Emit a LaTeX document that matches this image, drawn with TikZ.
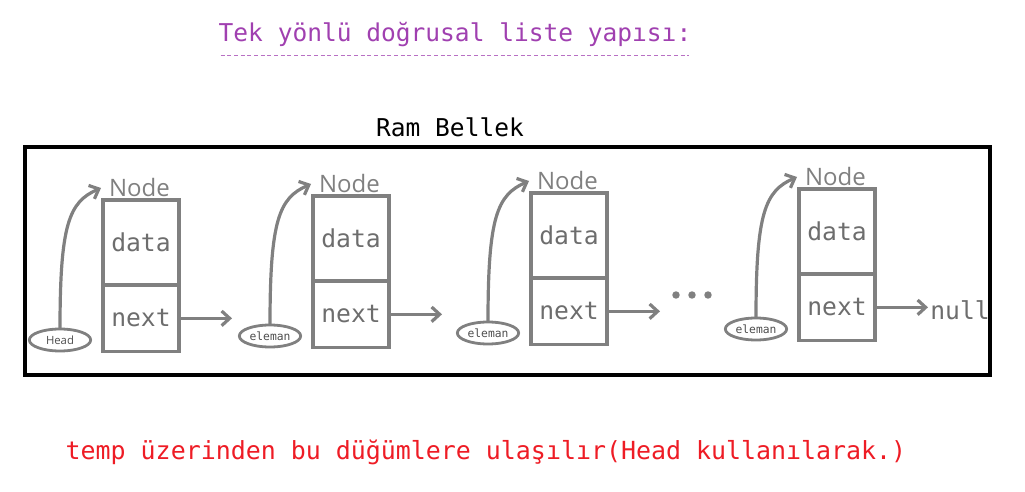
\documentclass[tikz,border=0pt]{standalone}
\usepackage{fontspec}
\setmainfont{Open Sans}
\setmonofont{DejaVu Sans Mono}
\usepackage{tikz}
\usetikzlibrary{arrows.meta,positioning,calc,shapes.geometric}
\definecolor{boxgray}{HTML}{808080}
\definecolor{titlepurple}{HTML}{A040B0}
\definecolor{notered}{HTML}{EE1C25}

\begin{document}
\begin{tikzpicture}[x=0.75pt,y=-0.75pt, every node/.style={inner sep=0pt,outer sep=0pt},
  cell/.style={draw=boxgray,line width=2.5pt,minimum width=57pt,text=boxgray!85!black,font=\ttfamily\fontsize{18.5}{20}\selectfont},
  ptr/.style={draw=boxgray,ellipse,line width=2.1pt,minimum width=46pt,minimum height=16.5pt,text=boxgray!60!black,font=\ttfamily\fontsize{8.5}{9}\selectfont},
  link/.style={draw=boxgray,line width=2.4pt,-{Straight Barb[length=6pt,width=11pt]}}]
  \useasboundingbox (0,0) rectangle (1025,492);
  \node[text=titlepurple,font=\ttfamily\fontsize{18.4}{20}\selectfont] (title) at (455,35) {Tek yönlü doğrusal liste yapısı:};
  \draw[titlepurple!75,dash pattern=on 3pt off 2pt,line width=0.8pt] ($(title.south west)+(2,8)$) -- ($(title.south east)+(-2,8)$);
  \node[font=\ttfamily\fontsize{18.4}{20}\selectfont] (ram) at (450,127) {Ram Bellek};
  \draw[line width=3.4pt] (25,147) rectangle (990,375);
  \foreach \i/\bx/\by/\lab in {1/103/200/{\rmfamily Head},2/313/196/eleman,3/531/193/eleman,4/799/189/eleman}{
    \node[cell,minimum height=63.75pt,anchor=north west] (d\i) at (\bx,\by) {data};
    \node[cell,minimum height=50pt,anchor=north] (n\i) at (d\i.south) {next};
    \node[text=boxgray,font=\fontsize{18}{20}\selectfont,anchor=base west] (lbl\i) at ($(d\i.north west)+(6,-4)$) {Node};
    \node[ptr] (p\i) at ($(d\i.north west)+(-43,140)$) {\lab};
    \coordinate (t\i) at ($(d\i.north west)+(-2,-12)$);
    \draw[link] (p\i.north) .. controls +(0,-105) and +(-32,14) .. (t\i);
    \coordinate (a\i) at ($(n\i.east)+(53,0)$);
    \draw[link] (n\i.east) -- (a\i);
  }
  \foreach \k in {0,1,2}
    \fill[boxgray] (676+16*\k,295) circle (2.8pt);
  \node[cell,draw=none,anchor=west] (null) at ($(a4)+(-6,3)$) {null};
  \node[text=notered,font=\ttfamily\fontsize{18.7}{20}\selectfont] (note) at (486,452) {temp üzerinden bu düğümlere ulaşılır(Head kullanılarak.)};
\end{tikzpicture}
\end{document}
